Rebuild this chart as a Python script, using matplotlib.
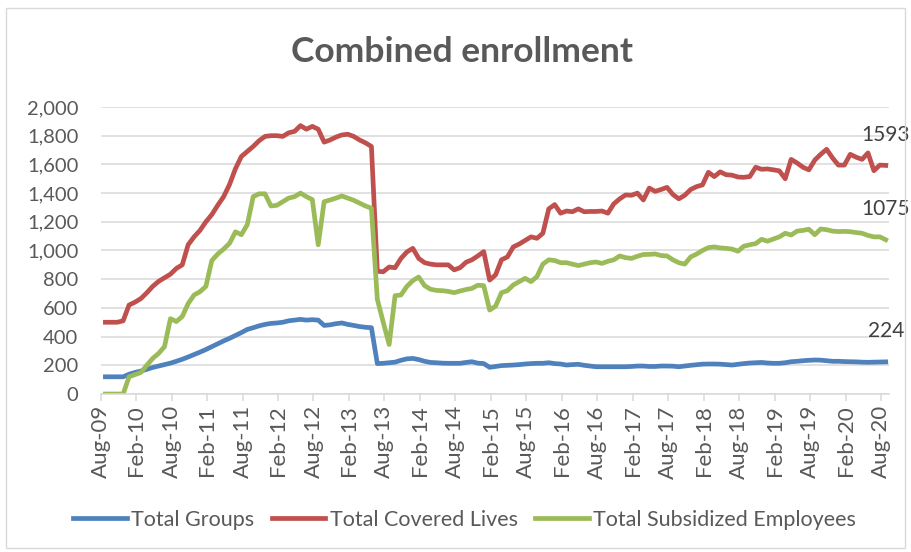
import numpy as np
import matplotlib.pyplot as plt
from matplotlib.patches import Rectangle
from matplotlib.ticker import FuncFormatter

# --- data: monthly totals, Aug-09 .. Aug-20 ---
tick_labels = ['Aug-09', 'Feb-10', 'Aug-10', 'Feb-11', 'Aug-11', 'Feb-12', 'Aug-12',
               'Feb-13', 'Aug-13', 'Feb-14', 'Aug-14', 'Feb-15', 'Aug-15', 'Feb-16',
               'Aug-16', 'Feb-17', 'Aug-17', 'Feb-18', 'Aug-18', 'Feb-19', 'Aug-19',
               'Feb-20', 'Aug-20']

total_groups = [
    120, 120, 120, 120, 138, 150, 160, 172, 185, 195, 205, 215,
    228, 242, 258, 275, 292, 310, 330, 350, 370, 388, 408, 428,
    450, 462, 475, 485, 492, 495, 500, 510, 515, 520, 515, 518,
    515, 478, 482, 490, 495, 485, 478, 470, 465, 462, 212, 214,
    218, 222, 235, 245, 248, 240, 228, 220, 218, 215, 214, 214,
    214, 220, 225, 215, 212, 186, 192, 198, 200, 202, 205, 209,
    212, 214, 214, 218, 212, 209, 202, 205, 207, 200, 195, 190,
    190, 190, 190, 190, 190, 192, 195, 195, 192, 192, 195, 195,
    194, 190, 195, 200, 204, 208, 209, 209, 208, 205, 202, 207,
    212, 216, 218, 220, 216, 214, 214, 218, 225, 228, 232, 235,
    237, 236, 232, 228, 228, 226, 225, 224, 222, 221, 222, 223,
    224]

total_covered_lives = [
    500, 500, 500, 510, 620, 640, 665, 705, 750, 785, 810, 835,
    875, 900, 1040, 1095, 1140, 1200, 1250, 1315, 1375, 1460, 1570, 1655,
    1690, 1725, 1765, 1795, 1800, 1800, 1795, 1820, 1830, 1870, 1845, 1865,
    1845, 1755, 1770, 1790, 1805, 1810, 1795, 1770, 1750, 1725, 855, 852,
    885, 880, 945, 990, 1015, 945, 915, 905, 900, 900, 900, 865,
    880, 918, 935, 962, 992, 794, 830, 935, 955, 1025, 1045, 1070,
    1095, 1085, 1120, 1290, 1320, 1260, 1275, 1270, 1290, 1270, 1272, 1272,
    1275, 1260, 1325, 1360, 1387, 1385, 1400, 1352, 1435, 1412, 1425, 1440,
    1390, 1360, 1385, 1425, 1445, 1457, 1545, 1515, 1548, 1528, 1525, 1512,
    1510, 1515, 1580, 1566, 1568, 1562, 1555, 1500, 1635, 1610, 1580, 1562,
    1630, 1670, 1705, 1645, 1595, 1595, 1670, 1650, 1635, 1680, 1556, 1595,
    1593]

total_subsidized = [
    0, 0, 0, 0, 120, 135, 150, 200, 248, 283, 330, 525,
    505, 540, 630, 690, 713, 750, 930, 975, 1010, 1050, 1130, 1110,
    1180, 1375, 1395, 1395, 1310, 1315, 1340, 1365, 1375, 1400, 1375, 1355,
    1040, 1340, 1352, 1365, 1380, 1365, 1350, 1330, 1310, 1295, 660, 500,
    345, 685, 690, 750, 790, 815, 755, 730, 722, 720, 715, 706,
    718, 728, 736, 758, 755, 585, 612, 706, 720, 760, 783, 806,
    783, 818, 905, 935, 930, 915, 915, 905, 895, 905, 915, 920,
    910, 925, 935, 962, 950, 945, 960, 972, 973, 976, 965, 962,
    935, 915, 905, 955, 975, 1000, 1020, 1025, 1018, 1015, 1010, 995,
    1030, 1040, 1048, 1078, 1065, 1080, 1095, 1120, 1108, 1135, 1140, 1148,
    1110, 1150, 1145, 1135, 1132, 1133, 1131, 1125, 1120, 1105, 1095, 1095,
    1075]

plt.rcParams['font.family'] = ['Lato', 'DejaVu Sans']

fig = plt.figure(figsize=(9.11, 5.52), dpi=100)
ax = fig.add_axes([0.1105, 0.2862, 0.865, 0.52])

months = np.arange(len(total_groups))
ax.plot(months, total_groups, color='#4F81BD', lw=3.4, label='Total Groups')
ax.plot(months, total_covered_lives, color='#C0504D', lw=3.4, label='Total Covered Lives')
ax.plot(months, total_subsidized, color='#9BBB59', lw=3.4, label='Total Subsidized Employees')

ax.set_ylim(0, 2000)
ax.set_xlim(-0.8, 132.5)
ax.set_yticks(np.arange(0, 2001, 200))
ax.yaxis.set_major_formatter(FuncFormatter(lambda v, p: f'{v:,.0f}'))
ax.grid(axis='y', color='#D9D9D9', lw=1.1)
ax.set_axisbelow(True)
for s in ['top', 'right', 'left']:
    ax.spines[s].set_visible(False)
ax.spines['bottom'].set_color('#D9D9D9')
ax.spines['bottom'].set_linewidth(1.1)
ax.tick_params(axis='y', length=0, pad=16, labelsize=14.5, labelcolor='#595959')

ax.set_xticks(np.arange(len(tick_labels)) * 6 - 0.8)
ax.set_xticklabels(tick_labels, rotation=90)
ax.tick_params(axis='x', length=5, width=1.1, color='#D9D9D9', pad=3,
               labelsize=16, labelcolor='#595959')

# end-of-series labels
for series in [total_covered_lives, total_subsidized, total_groups]:
    ax.annotate(str(series[-1]), (months[-1], series[-1]), xytext=(0, 22),
                textcoords='offset points', ha='center', va='center',
                fontsize=15, color='#404040')

fig.text(0.507, 1 - 52 / 552, 'Combined enrollment', ha='center', va='center',
         fontsize=25.5, fontweight='bold', color='#595959')

fig.legend(loc='center', bbox_to_anchor=(0.51, 0.058), ncol=3, frameon=False,
           fontsize=15.5, handlelength=2.5, handletextpad=0.2, columnspacing=0.8,
           labelcolor='#595959')

fig.add_artist(Rectangle((6 / 911, 1 - 548 / 552), 899 / 911, 540 / 552,
                         transform=fig.transFigure, fill=False,
                         edgecolor='#D9D9D9', lw=1))

fig.savefig('out.png', dpi=100)
